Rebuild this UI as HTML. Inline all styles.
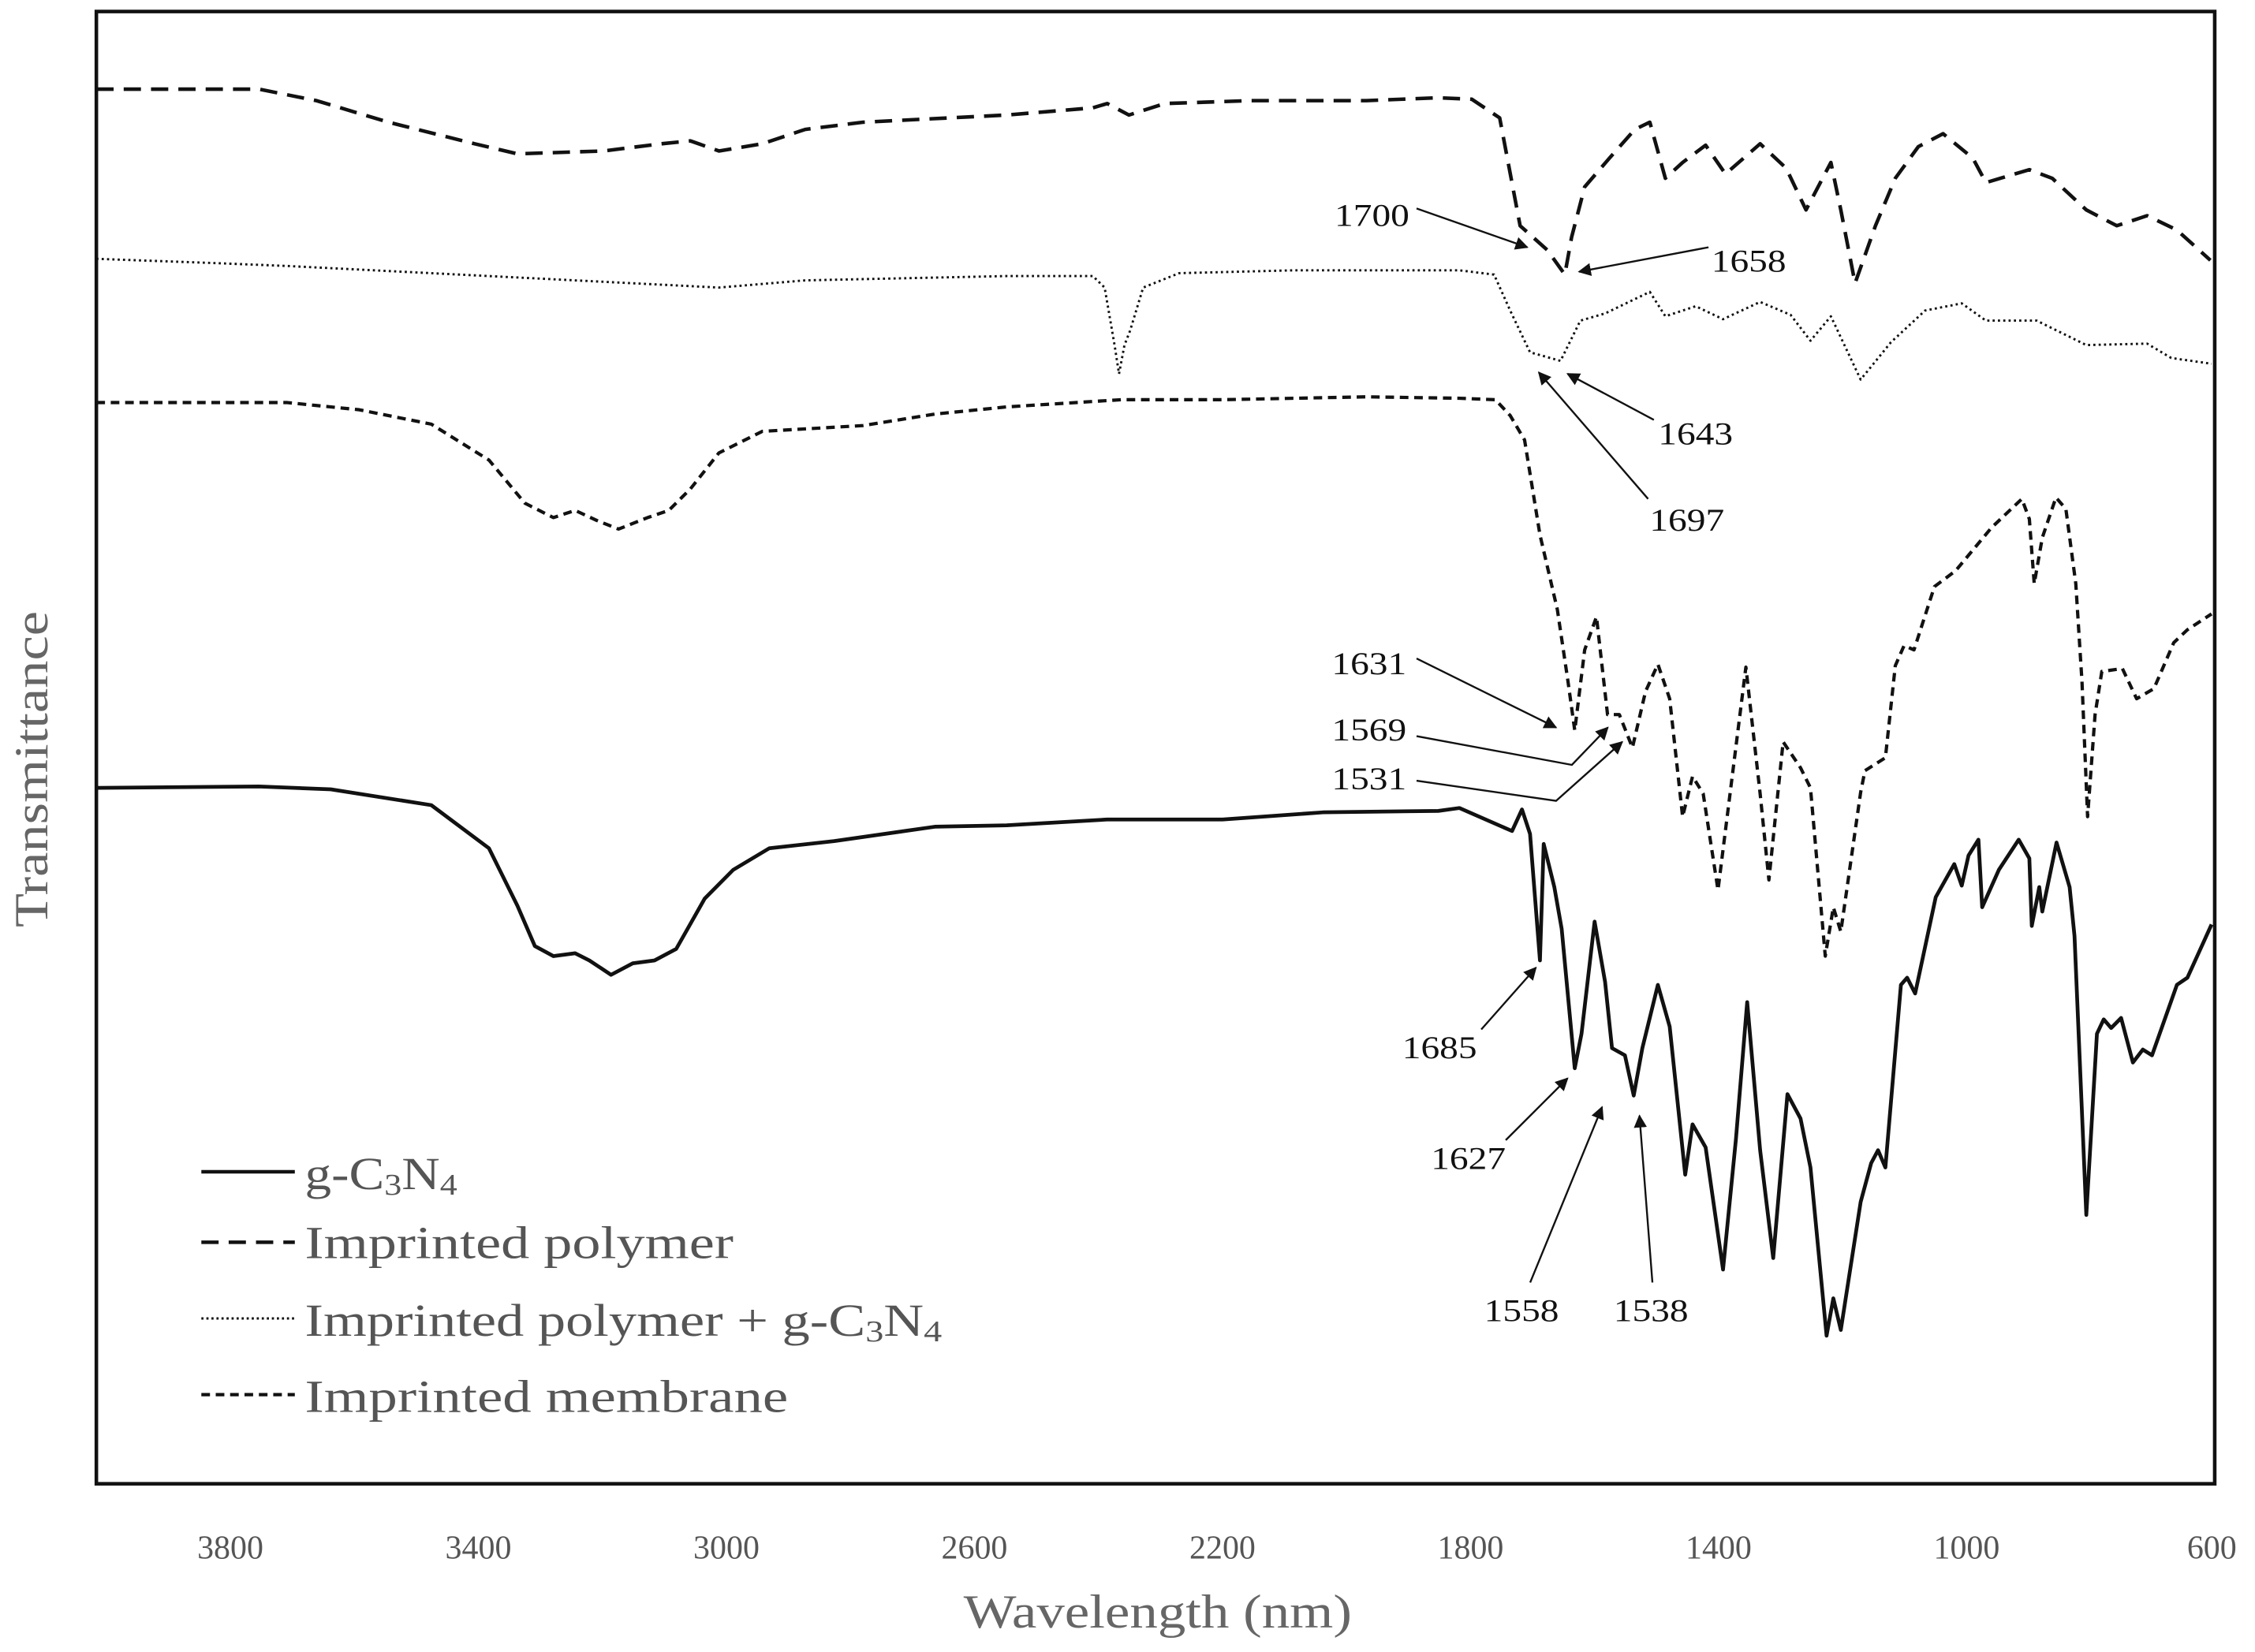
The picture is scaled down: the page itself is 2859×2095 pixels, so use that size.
<!DOCTYPE html>
<html><head><meta charset="utf-8"><style>
html,body{margin:0;padding:0;background:#fff}
svg{display:block}
text{font-family:"Liberation Serif",serif}
</style></head><body>
<svg id="chart" width="2859" height="2095" viewBox="0 0 1568 1149" xmlns="http://www.w3.org/2000/svg">
<defs>
<marker id="ah" viewBox="0 0 10 10" refX="9" refY="5" markerWidth="7" markerHeight="7" orient="auto-start-reverse"><path d="M0,0 L10,5 L0,10 z" fill="#111"/></marker>
</defs>
<rect x="67" y="8" width="1473" height="1024" fill="none" stroke="#111" stroke-width="2.5"/>
<g id="series"></g>
<g id="xticks"></g>
<text x="670" y="1132" font-size="33" fill="#666" textLength="270" lengthAdjust="spacingAndGlyphs">Wavelength (nm)</text>
<text x="0" y="0" font-size="33" fill="#666" textLength="220" lengthAdjust="spacingAndGlyphs" transform="translate(33,645) rotate(-90)">Transmittance</text>
<g font-size="22" fill="#111" stroke-width="1.3">
<text x="928" y="157" textLength="52" lengthAdjust="spacingAndGlyphs">1700</text>
<line x1="985" y1="145" x2="1062" y2="172" stroke="#111" marker-end="url(#ah)"/>
<text x="1190" y="189" textLength="52" lengthAdjust="spacingAndGlyphs">1658</text>
<line x1="1188" y1="172" x2="1098" y2="189" stroke="#111" marker-end="url(#ah)"/>
<text x="1153" y="309" textLength="52" lengthAdjust="spacingAndGlyphs">1643</text>
<line x1="1150" y1="292" x2="1090" y2="260" stroke="#111" marker-end="url(#ah)"/>
<text x="1147" y="369" textLength="52" lengthAdjust="spacingAndGlyphs">1697</text>
<line x1="1146" y1="347" x2="1070" y2="259" stroke="#111" marker-end="url(#ah)"/>
<text x="926" y="469" textLength="52" lengthAdjust="spacingAndGlyphs">1631</text>
<line x1="985" y1="458" x2="1082" y2="506" stroke="#111" marker-end="url(#ah)"/>
<text x="926" y="515" textLength="52" lengthAdjust="spacingAndGlyphs">1569</text>
<polyline points="985,512 1093,532 1118,506" fill="none" stroke="#111" marker-end="url(#ah)"/>
<text x="926" y="549" textLength="52" lengthAdjust="spacingAndGlyphs">1531</text>
<polyline points="985,543 1082,557 1128,516" fill="none" stroke="#111" marker-end="url(#ah)"/>
<text x="975" y="736" textLength="52" lengthAdjust="spacingAndGlyphs">1685</text>
<line x1="1030" y1="716" x2="1068" y2="673" stroke="#111" marker-end="url(#ah)"/>
<text x="995" y="813" textLength="52" lengthAdjust="spacingAndGlyphs">1627</text>
<line x1="1047" y1="793" x2="1090" y2="750" stroke="#111" marker-end="url(#ah)"/>
<text x="1032" y="919" textLength="52" lengthAdjust="spacingAndGlyphs">1558</text>
<line x1="1064" y1="892" x2="1114" y2="770" stroke="#111" marker-end="url(#ah)"/>
<text x="1122" y="919" textLength="52" lengthAdjust="spacingAndGlyphs">1538</text>
<line x1="1149" y1="892" x2="1140" y2="776" stroke="#111" marker-end="url(#ah)"/>
</g>
<g font-size="32" fill="#555">
<line x1="140" y1="815" x2="205" y2="815" stroke="#111" stroke-width="2.5"/>
<text x="212" y="827" textLength="106" lengthAdjust="spacingAndGlyphs">g-C<tspan font-size="21" dy="4">3</tspan><tspan dy="-4">N</tspan><tspan font-size="21" dy="4">4</tspan></text>
<line x1="140" y1="864" x2="205" y2="864" stroke="#111" stroke-width="2.5" stroke-dasharray="12,7"/>
<text x="212" y="875" textLength="298" lengthAdjust="spacingAndGlyphs">Imprinted polymer</text>
<line x1="140" y1="917" x2="205" y2="917" stroke="#111" stroke-width="1.6" stroke-dasharray="1.5,2"/>
<text x="212" y="929" textLength="443" lengthAdjust="spacingAndGlyphs">Imprinted polymer + g-C<tspan font-size="21" dy="4">3</tspan><tspan dy="-4">N</tspan><tspan font-size="21" dy="4">4</tspan></text>
<line x1="140" y1="970" x2="205" y2="970" stroke="#111" stroke-width="2.3" stroke-dasharray="6,4"/>
<text x="212" y="982" textLength="336" lengthAdjust="spacingAndGlyphs">Imprinted membrane</text>
</g>
</svg>
<script>
const xTicks = [3800,3400,3000,2600,2200,1800,1400,1000,600];
const gc3n4 = [[4016,484],[3754,485],[3638,483],[3476,472],[3383,442],[3337,402],[3309,374],[3279,367],[3244,369],[3221,364],[3186,354],[3151,362],[3116,364],[3081,372],[3035,407],[2989,427],[2931,442],[2826,447],[2664,457],[2548,458],[2386,462],[2200,462],[2038,467],[1852,468],[1818,470],[1733,454],[1717,469],[1704,452],[1688,364],[1682,445],[1665,415],[1653,386],[1632,289],[1621,313],[1600,391],[1583,349],[1572,303],[1551,298],[1537,270],[1523,303],[1498,347],[1479,318],[1454,215],[1442,250],[1421,234],[1393,149],[1372,240],[1354,335],[1333,232],[1312,157],[1289,271],[1268,254],[1252,220],[1226,103],[1215,129],[1203,107],[1171,196],[1154,223],[1143,232],[1131,220],[1106,347],[1096,352],[1083,341],[1050,408],[1020,431],[1008,416],[997,437],[981,448],[975,401],[948,427],[916,448],[899,435],[895,388],[883,415],[878,398],[855,446],[834,415],[826,381],[807,187],[790,313],[779,323],[767,317],[751,324],[732,293],[716,302],[701,298],[661,347],[644,352],[605,389]];
const membrane = [[4016,752],[3708,752],[3592,747],[3476,737],[3383,712],[3325,682],[3279,672],[3244,677],[3209,670],[3174,664],[3127,672],[3093,677],[3058,692],[3012,717],[2942,732],[2780,736],[2664,744],[2548,749],[2363,754],[2200,754],[1968,756],[1818,755],[1760,754],[1736,743],[1713,726],[1688,660],[1660,608],[1643,558],[1632,524],[1616,580],[1597,603],[1579,535],[1560,535],[1539,512],[1518,551],[1498,570],[1479,546],[1458,464],[1442,492],[1425,480],[1401,413],[1356,568],[1333,480],[1319,420],[1296,516],[1268,498],[1252,484],[1228,367],[1215,401],[1203,384],[1171,481],[1164,496],[1131,505],[1115,569],[1101,583],[1085,580],[1052,624],[1018,635],[960,665],[911,685],[899,671],[891,626],[878,658],[856,686],[840,678],[824,626],[814,558],[805,464],[793,535],[782,565],[749,567],[726,546],[698,553],[666,585],[644,594],[605,605]];
const polymer = [[4016,970],[3754,970],[3661,962],[3545,947],[3406,932],[3337,925],[3198,927],[3105,932],[3058,934],[3012,927],[2942,932],[2873,942],[2780,947],[2548,952],[2409,957],[2386,960],[2351,952],[2293,960],[2154,962],[1968,962],[1852,964],[1798,963],[1753,950],[1720,875],[1676,858],[1648,841],[1637,867],[1616,902],[1576,922],[1535,942],[1511,947],[1486,908],[1458,919],[1421,931],[1389,911],[1333,932],[1291,915],[1259,886],[1219,919],[1203,886],[1180,835],[1147,875],[1115,908],[1078,930],[1038,939],[990,922],[969,905],[899,914],[862,908],[807,886],[758,875],[709,882],[661,872],[607,851]];
const polymerGc3n4 = [[4016,852],[3824,849],[3708,847],[3476,842],[3012,832],[2873,837],[2548,840],[2409,840],[2390,832],[2374,792],[2367,772],[2358,792],[2349,802],[2328,832],[2270,842],[2084,844],[1818,844],[1762,841],[1736,816],[1704,787],[1655,781],[1623,809],[1583,814],[1511,829],[1486,812],[1437,819],[1393,810],[1333,822],[1284,813],[1252,795],[1219,812],[1171,768],[1122,794],[1067,816],[1008,821],[969,809],[887,809],[807,792],[709,793],[670,783],[605,779]];

const X0=67, X1=1540, W0=4016, W1=600;
function xScale(w){return X0+(W0-w)/(W0-W1)*(X1-X0);}
function yScale(t){return 1032-t;}
const NS="http://www.w3.org/2000/svg";
const sg=document.getElementById('series');
function draw(data,name,width,dash){
  const p=document.createElementNS(NS,'path');
  
  
  p.setAttribute('d', data.map((d,i)=>(i?'L':'M')+xScale(d[0]).toFixed(1)+','+yScale(d[1]).toFixed(1)).join(''));
  p.setAttribute('fill','none');p.setAttribute('stroke','#111');
  p.setAttribute('stroke-width',width);p.setAttribute('stroke-linejoin','round');
  if(dash)p.setAttribute('stroke-dasharray',dash);
  sg.appendChild(p);
}
draw(polymer,'series-imprinted-polymer',2.5,'12,7');
draw(polymerGc3n4,'series-imprinted-polymer-gc3n4',1.6,'1.5,2.2');
draw(membrane,'series-imprinted-membrane',2.3,'6,4');
draw(gc3n4,'series-gc3n4',2.6,null);
const xt=document.getElementById('xticks');
xTicks.forEach(v=>{
  const t=document.createElementNS(NS,'text');
  
  
  t.setAttribute('x', Math.min(xScale(v), 1538));
  t.setAttribute('y', 1084);
  t.setAttribute('font-size','23');t.setAttribute('fill','#555');
  t.setAttribute('text-anchor','middle');
  t.textContent=v;
  xt.appendChild(t);
});
</script>
</body></html>
